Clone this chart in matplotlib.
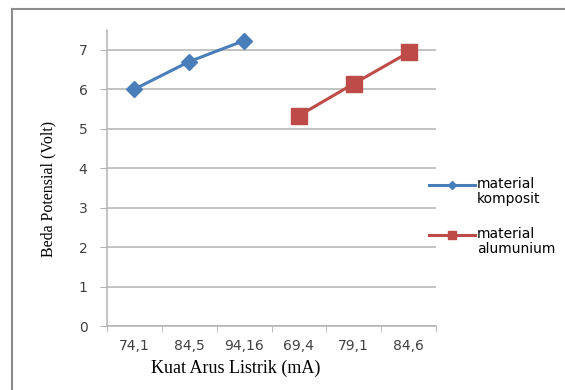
import matplotlib.pyplot as plt
from matplotlib.lines import Line2D

# kuat arus (mA) as categories, beda potensial (Volt)
categories = ["74,1", "84,5", "94,16", "69,4", "79,1", "84,6"]
komposit = [6.0, 6.7, 7.23]
alumunium = [5.33, 6.14, 6.93]
series_names = ["material\nkomposit", "material\nalumunium"]

blue = "#4a7ebb"
red = "#be4b48"
grid_col = "#b3b3b3"
sans = "DejaVu Sans"
serif = "Liberation Serif"

fig = plt.figure(figsize=(5.65, 3.9), dpi=100)
ax = fig.add_axes([107/565, 1-326/390, (436-107)/565, (326-30)/390])

x = list(range(len(categories)))
ax.plot(x[:3], komposit, color=blue, lw=2.2, marker="D", ms=8.5)
ax.plot(x[3:], alumunium, color=red, lw=2.2, marker="s", ms=11)

ax.set_xlim(-0.5, len(categories) - 0.5)
ax.set_ylim(0, 7.5)
ax.set_yticks(range(0, 8))
ax.set_yticklabels([str(v) for v in range(0, 8)], fontfamily=sans, fontsize=10,
                   color="#404040")
ax.set_xticks(x)
ax.set_xticklabels(categories, fontfamily=sans, fontsize=10, color="#404040")
ax.set_xticks([i - 0.5 for i in range(len(categories) + 1)], minor=True)
ax.tick_params(axis="x", which="major", length=0, pad=9)
ax.tick_params(axis="x", which="minor", length=4, color=grid_col, direction="out")
ax.tick_params(axis="y", length=5, color=grid_col, pad=9)
ax.grid(axis="y", color=grid_col, lw=1.1)
ax.set_axisbelow(True)
for s in ["top", "right"]:
    ax.spines[s].set_visible(False)
for s in ["left", "bottom"]:
    ax.spines[s].set_color(grid_col)
    ax.spines[s].set_linewidth(1.1)

fig.text(48/565, 1-189/390, "Beda Potensial (Volt)", rotation=90, ha="center",
         va="center", fontfamily=serif, fontsize=11.5)
fig.text(236/565, 1-368/390, "Kuat Arus Listrik (mA)", ha="center", va="center",
         fontfamily=serif, fontsize=13)

# legend drawn by hand: line sits on the first text row, like excel
leg = [(blue, "D", 4, 185), (red, "s", 6, 235)]
for (col, mk, ms, ypx), name in zip(leg, series_names):
    yf = 1 - ypx/390
    fig.add_artist(Line2D([429/565, 475/565], [yf, yf], color=col, lw=2.2,
                          transform=fig.transFigure))
    fig.add_artist(Line2D([452/565], [yf], color=col, marker=mk, ms=ms,
                          transform=fig.transFigure))
    fig.text(477/565, 1 - (ypx - 8)/390, name, ha="left", va="top",
             fontfamily=sans, fontsize=10, linespacing=1.05)

# outer chart border (left and top visible)
fig.add_artist(Line2D([12/565, 12/565], [0, 1-9/390], color="#8c8c8c", lw=1.5,
                      transform=fig.transFigure))
fig.add_artist(Line2D([12/565, 1], [1-9/390, 1-9/390], color="#8c8c8c", lw=1.5,
                      transform=fig.transFigure))

fig.savefig("out.png", dpi=100)
